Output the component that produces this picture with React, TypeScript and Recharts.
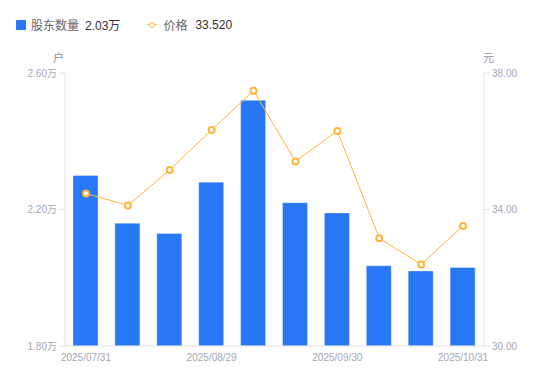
import { ComposedChart, Bar, Line, XAxis, YAxis } from "recharts";

const dates = [
  "2025/07/31",
  "2025/08/08",
  "2025/08/20",
  "2025/08/29",
  "2025/09/10",
  "2025/09/19",
  "2025/09/30",
  "2025/10/10",
  "2025/10/20",
  "2025/10/31",
];
// 股东数量 (万户)
const holders = [2.3, 2.16, 2.13, 2.28, 2.52, 2.22, 2.19, 2.035, 2.02, 2.03];
// 价格 (元)
const prices = [34.47, 34.12, 35.16, 36.33, 37.48, 35.41, 36.3, 33.16, 32.39, 33.52];
const leftTicks = [1.8, 2.2, 2.6];
const rightTicks = [30, 34, 38];

const data = dates.map((d, i) => ({ date: d, holders: holders[i], price: prices[i] }));

const font = "'Liberation Sans', Arial, 'Noto Sans CJK SC', sans-serif";
const tickStyle = { fill: "#a3a6b4", fontSize: 10, fontFamily: font };
const axisColor = "#e3e4e8";

export default function App() {
  return (
    <div
      style={{
        position: "absolute",
        left: 0,
        top: 0,
        width: 550,
        height: 381,
        background: "#fff",
        fontFamily: font,
      }}
    >
      {/* legend */}
      <div style={{ position: "absolute", left: 16, top: 16, fontSize: 12, display: "flex", alignItems: "center", whiteSpace: "nowrap" }}>
        <span style={{ width: 10, height: 10, background: "#2878f5", borderRadius: 1, display: "inline-block" }} />
        <span style={{ marginLeft: 5, color: "#666" }}>股东数量</span>
        <span style={{ marginLeft: 6, color: "#333" }}>2.03万</span>
        <span style={{ marginLeft: 27, position: "relative", width: 10, height: 10, display: "inline-block" }}>
          <span style={{ position: "absolute", left: 0, top: 4.5, width: 10, height: 1, background: "#ffb53d" }} />
          <span style={{ position: "absolute", left: 2, top: 2, width: 4, height: 4, border: "1.5px solid #ffb53d", borderRadius: "50%", background: "#fff" }} />
        </span>
        <span style={{ marginLeft: 6, color: "#666" }}>价格</span>
        <span style={{ marginLeft: 8, color: "#333" }}>33.520</span>
      </div>
      <div style={{ position: "absolute", left: 53, top: 49, fontSize: 11, color: "#8e919c" }}>户</div>
      <div style={{ position: "absolute", left: 483, top: 49, fontSize: 11, color: "#8e919c" }}>元</div>
      <ComposedChart
        width={550}
        height={381}
        data={data}
        margin={{ top: 73, right: 0, left: 0, bottom: 0 }}
      >
        <XAxis
          dataKey="date"
          interval={2}
          height={35}
          tickLine={false}
          tick={tickStyle}
          stroke={axisColor}
          tickMargin={2}
        />
        <YAxis
          yAxisId="left"
          width={65}
          domain={[1.8, 2.6]}
          ticks={leftTicks}
          tickFormatter={(v: number) => `${v.toFixed(2)}万`}
          tick={tickStyle}
          stroke={axisColor}
          tickSize={6}
          tickMargin={2}
        />
        <YAxis
          yAxisId="right"
          orientation="right"
          width={66}
          domain={[30, 38]}
          ticks={rightTicks}
          tickFormatter={(v: number) => v.toFixed(2)}
          tick={tickStyle}
          stroke={axisColor}
          tickSize={6}
          tickMargin={2}
        />
        <Bar
          yAxisId="left"
          dataKey="holders"
          fill="#2878f5"
          stroke="rgba(255,255,255,0.35)"
          strokeWidth={1}
          barSize={25}
          isAnimationActive={false}
        />
        <Line
          yAxisId="right"
          dataKey="price"
          type="linear"
          stroke="#ffb53d"
          strokeWidth={1}
          dot={{ r: 3, fill: "#fff", stroke: "#ffb53d", strokeWidth: 2 }}
          isAnimationActive={false}
        />
      </ComposedChart>
    </div>
  );
}
